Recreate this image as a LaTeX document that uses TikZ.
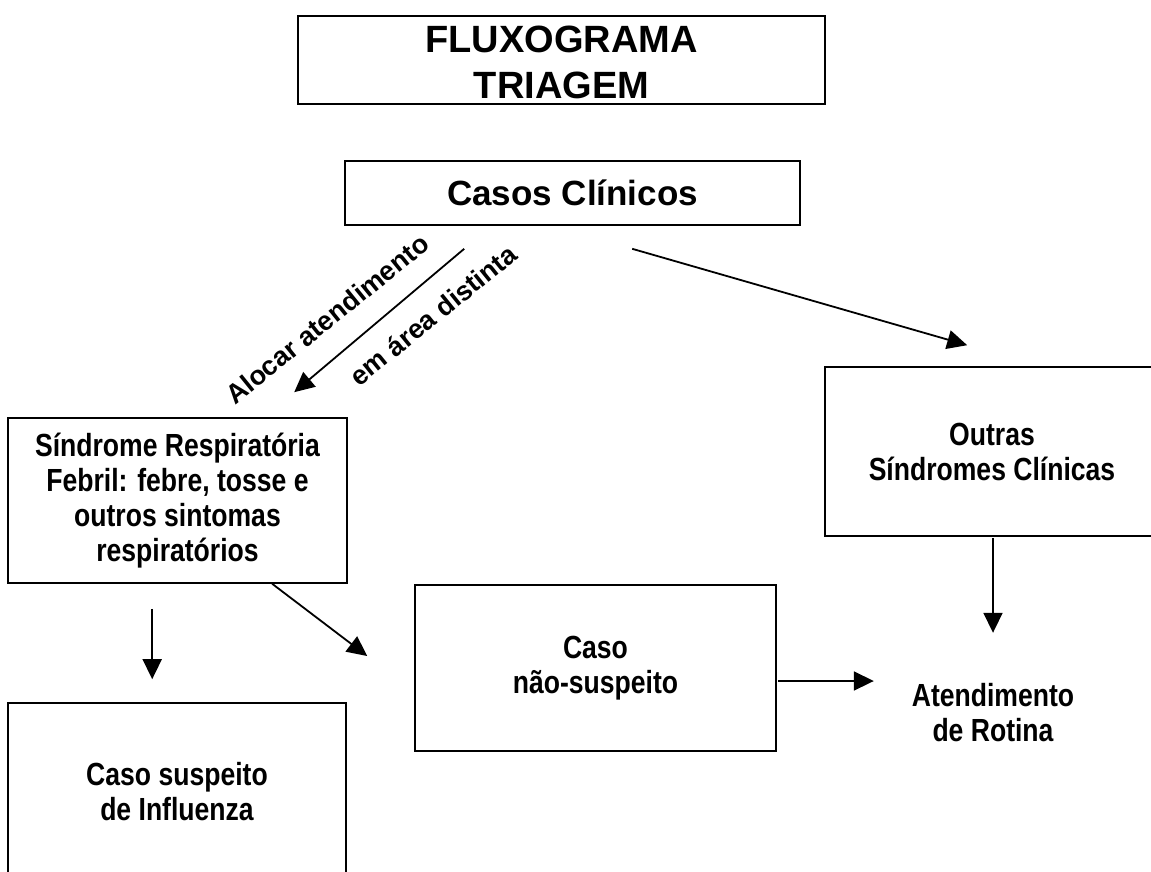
\documentclass[tikz,border=0pt]{standalone}
\usepackage{fontspec}
\setmainfont{Liberation Sans}
\newfontfamily\narrowfont[FakeStretch=0.83]{Liberation Sans}
\usetikzlibrary{arrows.meta,calc}
\begin{document}
\begin{tikzpicture}[x=1pt,y=-1pt,
  box/.style={draw,line width=1.6pt,inner sep=0pt,align=center},
  nar/.style={font=\narrowfont\bfseries\fontsize{32}{35}\selectfont},
  reg/.style={font=\bfseries\fontsize{27}{30}\selectfont},
  arr/.style={line width=1.8pt,-{Triangle[length=20pt,width=19pt]}}]
\clip (0,0) rectangle (1151,871);
\fill[white] (0,0) rectangle (1151,871);

% boxes
\node[box, minimum width=527, minimum height=88] (title) at (561.5,60) {};
\node[font=\bfseries\fontsize{38}{46}\selectfont, align=center] (titletext) at ($(title.center)+(0,2)$) {FLUXOGRAMA\\TRIAGEM};

\node[box, minimum width=455, minimum height=64, font=\bfseries\fontsize{35}{40}\selectfont] (casos) at (572.5,193) {Casos Clínicos};

\node[box, nar, minimum width=339, minimum height=165] (sind) at (177.5,500.5)
  {Síndrome Respiratória\\Febril: febre, tosse e\\outros sintomas\\respiratórios};

\node[box, nar, minimum width=334, minimum height=169] (outras) at (992,451.5)
  {Outras\\Síndromes Clínicas};

\node[box, nar, minimum width=361, minimum height=166] (naosusp) at (595.5,668)
  {Caso\\não-suspeito};

\node[box, nar, minimum width=338, minimum height=178] (susp) at (177,792)
  {Caso suspeito\\de Influenza};

\node[nar, align=center] (atend) at (993,713) {Atendimento\\de Rotina};

% rotated labels
\node[reg, rotate=39] (lab1) at (327,319) {Alocar atendimento};
\node[reg, rotate=39] (lab2) at (433,315) {em área distinta};

% arrow end points
\coordinate (a1s) at ($(casos.south west)+(120,23)$);
\coordinate (a1e) at ($(sind.north west)+(287,-25)$);
\coordinate (a2s) at ($(casos.south west)+(288,23)$);
\coordinate (a2e) at ($(outras.north west)+(143,-21)$);
\coordinate (a3s) at ($(sind.south west)+(265,0)$);
\coordinate (a3e) at ($(naosusp.west)+(-47,-12)$);
\coordinate (a4s) at ($(naosusp.east)+(1,13)$);
\coordinate (a4e) at ($(naosusp.east)+(97,13)$);
\coordinate (a5s) at ($(outras.south)+(1,1)$);
\coordinate (a5e) at ($(outras.south)+(1,96)$);
\coordinate (a6s) at ($(sind.south west)+(145,25)$);
\coordinate (a6e) at ($(susp.north west)+(145,-23)$);

\draw[arr] (a1s) -- (a1e);
\draw[arr] (a2s) -- (a2e);
\draw[arr] (a3s) -- (a3e);
\draw[arr] (a4s) -- (a4e);
\draw[arr] (a5s) -- (a5e);
\draw[arr] (a6s) -- (a6e);
\end{tikzpicture}
\end{document}
